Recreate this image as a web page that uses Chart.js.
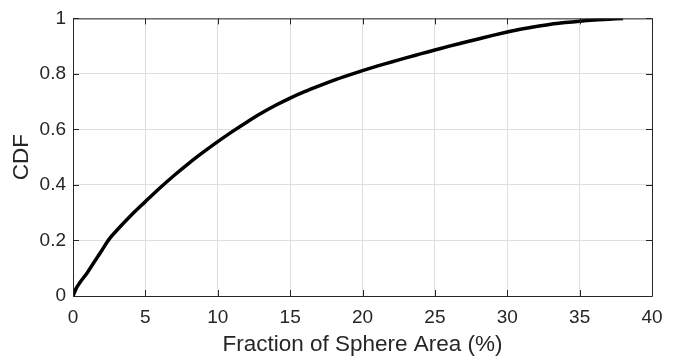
<!DOCTYPE html>
<html>
<head>
<meta charset="utf-8">
<title>CDF</title>
<script src="https://cdn.jsdelivr.net/npm/chart.js@4/dist/chart.umd.min.js"></script>
<style>
  html, body { margin: 0; padding: 0; background: #ffffff; }
  #wrap { width: 673px; height: 360px; position: relative; }
</style>
</head>
<body>
<div id="wrap"><canvas id="cdfChart"></canvas></div>
<script>
// 数据：横轴（球面面积比例 %）与 CDF 值
const xValues = [0, 0.25, 0.5, 1, 1.5, 2, 2.5, 3, 4, 5, 6, 7, 8, 9, 10, 11, 12, 13, 14, 15,
  16, 17, 18, 19, 20, 21, 22, 23, 24, 25, 26, 27, 28, 29, 30, 31, 32, 33, 34, 35, 36, 37, 38];
const cdfValues = [0, 0.03, 0.05, 0.085, 0.125, 0.165, 0.205, 0.235, 0.29, 0.34, 0.389, 0.435,
  0.478, 0.518, 0.556, 0.592, 0.626, 0.658, 0.687, 0.713, 0.736, 0.757, 0.777, 0.795, 0.812,
  0.828, 0.843, 0.858, 0.872, 0.886, 0.9, 0.913, 0.926, 0.939, 0.951, 0.962, 0.971, 0.979,
  0.985, 0.99, 0.994, 0.997, 1.0];

// 刻度标签
const xTickLabels = ["0", "5", "10", "15", "20", "25", "30", "35", "40"];
const yTickLabels = ["0", "0.2", "0.4", "0.6", "0.8", "1"];

const FONT = '"Liberation Sans", Arial, Helvetica, sans-serif';
const TEXT_COLOR = "#262626";
const GRID_COLOR = "#dedede";

document.addEventListener("DOMContentLoaded", function () {
  initChart();
});

/**
 * 坐标框与向内的刻度线（MATLAB 风格）
 */
const boxPlugin = {
  id: "boxPlugin",
  afterDatasetsDraw: function (chart) {
    const ctx = chart.ctx;
    const area = chart.chartArea;
    const xScale = chart.scales.x;
    const yScale = chart.scales.y;
    const tick = 6;

    ctx.save();
    ctx.strokeStyle = TEXT_COLOR;
    ctx.lineWidth = 1;
    ctx.beginPath();
    ctx.rect(area.left + 0.5, area.top + 0.5, area.right - area.left, area.bottom - area.top);

    xScale.ticks.forEach(function (t) {
      const px = Math.round(xScale.getPixelForValue(t.value)) + 0.5;
      ctx.moveTo(px, area.bottom);
      ctx.lineTo(px, area.bottom - tick);
      ctx.moveTo(px, area.top);
      ctx.lineTo(px, area.top + tick);
    });

    yScale.ticks.forEach(function (t) {
      const py = Math.round(yScale.getPixelForValue(t.value)) + 0.5;
      ctx.moveTo(area.left, py);
      ctx.lineTo(area.left + tick, py);
      ctx.moveTo(area.right, py);
      ctx.lineTo(area.right - tick, py);
    });
    ctx.stroke();
    ctx.restore();
  },
};

/**
 * 图表初始化
 */
function initChart() {
  const canvas = document.getElementById("cdfChart");
  if (!canvas || typeof Chart === "undefined") return;

  const points = xValues.map(function (x, i) {
    return { x: x, y: cdfValues[i] };
  });

  new Chart(canvas, {
    type: "line",
    data: {
      datasets: [
        {
          label: "CDF",
          data: points,
          borderColor: "#000000",
          borderWidth: 3.5,
          pointRadius: 0,
          fill: false,
          cubicInterpolationMode: "monotone",
        },
      ],
    },
    options: {
      responsive: true,
      maintainAspectRatio: false,
      animation: false,
      layout: {
        padding: { left: 0, right: 21, top: 14, bottom: 0 },
      },
      plugins: {
        legend: { display: false },
        tooltip: { enabled: false },
      },
      scales: {
        x: {
          type: "linear",
          min: 0,
          max: 40,
          afterFit: function (scale) {
            scale.height = 64;
          },
          ticks: {
            stepSize: 5,
            padding: 10,
            color: TEXT_COLOR,
            font: { family: FONT, size: 19 },
            maxRotation: 0,
            callback: function (value) {
              return xTickLabels[Math.round(value / 5)];
            },
          },
          grid: { color: GRID_COLOR, lineWidth: 1, drawTicks: false },
          border: { display: false },
          title: {
            display: true,
            text: "Fraction of Sphere Area (%)",
            color: TEXT_COLOR,
            font: { family: FONT, size: 22.5 },
            padding: { top: 0, bottom: 2 },
          },
        },
        y: {
          type: "linear",
          min: 0,
          max: 1,
          afterFit: function (scale) {
            scale.width = 73;
          },
          ticks: {
            stepSize: 0.2,
            padding: 7,
            color: TEXT_COLOR,
            font: { family: FONT, size: 19 },
            callback: function (value) {
              return yTickLabels[Math.round(value / 0.2)];
            },
          },
          grid: { color: GRID_COLOR, lineWidth: 1, drawTicks: false },
          border: { display: false },
          title: {
            display: true,
            text: "CDF",
            color: TEXT_COLOR,
            font: { family: FONT, size: 22.5 },
            padding: { top: 8, bottom: 0 },
          },
        },
      },
    },
    plugins: [boxPlugin],
  });
}
</script>
</body>
</html>
